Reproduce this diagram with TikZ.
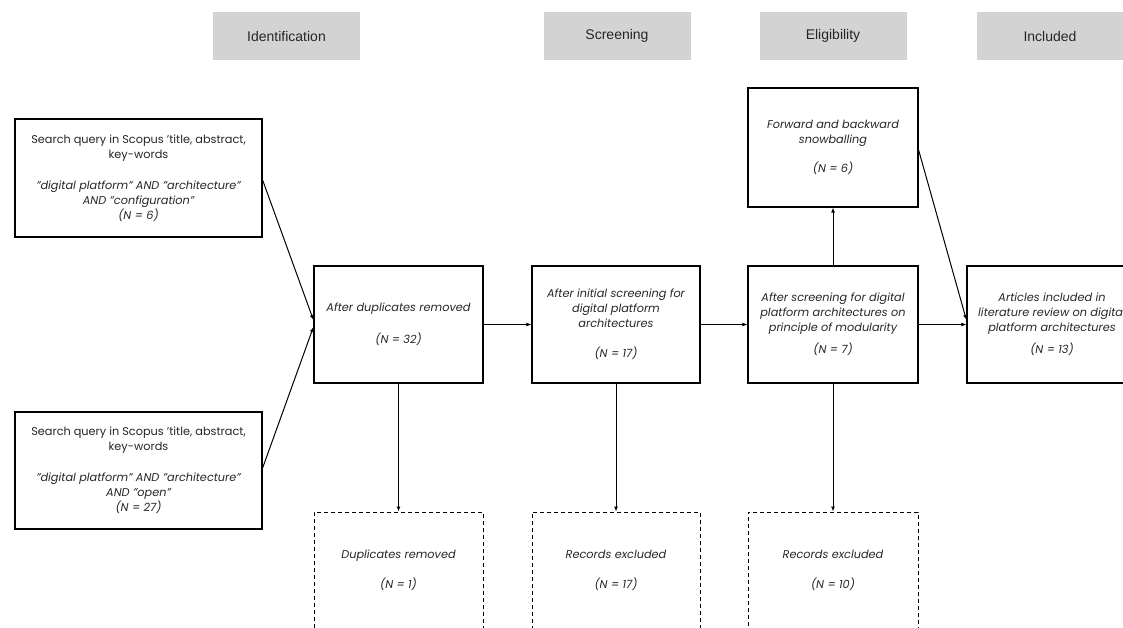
\documentclass[tikz,border=0pt]{standalone}
\usepackage{fontspec}
\setmainfont{Poppins}
\newfontfamily\hdrfont{Liberation Sans}
\usetikzlibrary{arrows.meta}

\tikzset{
  phase/.style={fill={rgb,255:red,211;green,211;blue,211}, draw=none,
    minimum width=147pt, minimum height=48pt, inner sep=0pt,
    font=\hdrfont\fontsize{14}{16}\selectfont, text=black!85},
  stagebox/.style={draw=black, line width=1.2pt, inner sep=0pt,
    minimum width=169pt, minimum height=117pt, align=center,
    font=\fontsize{11.3}{15}\selectfont\itshape, text=black!85},
  querybox/.style={stagebox, minimum width=247pt, minimum height=118pt},
  outbox/.style={stagebox, line width=0.9pt, dash pattern=on 4pt off 3pt},
  arr/.style={draw=black, line width=1pt, -{Latex[length=5pt,width=4pt]}}
}

\begin{document}
\begin{tikzpicture}[x=1pt,y=-1pt]
  \useasboundingbox (0,0) rectangle (1123,628);
  \clip (0,0) rectangle (1123,628);

  % phase headers
  \node[phase] (hId)  at (286.5,36) {Identification};
  \node[phase] (hScr) at (617,36)   {Screening};
  \node[phase] (hEli) at (833,36)   {Eligibility};
  \node[phase] (hInc) at (1050,36)  {Included};

  % database searches
  \node[querybox] (q1) at (138.5,178)
    {\upshape Search query in Scopus 'title, abstract,\\ \upshape key-words\\[16pt]
     "digital platform" AND "architecture"\\ AND "configuration"\\ (N = 6)};
  \node[querybox, minimum height=117pt] (q2) at (138.5,470.5)
    {\upshape Search query in Scopus 'title, abstract,\\ \upshape key-words\\[16pt]
     "digital platform" AND "architecture"\\ AND "open"\\ (N = 27)};

  % main flow
  \node[stagebox] (dup) at (398.5,324.5)
    {After duplicates removed\\[17pt](N = 32)};
  \node[stagebox, minimum width=168pt] (scr) at (616,324.5)
    {After initial screening for\\ digital platform\\ architectures\\[15pt](N = 17)};
  \node[stagebox, minimum width=170pt] (eli) at (833,324.5)
    {After screening for digital\\ platform architectures on\\ principle of modularity\\[7pt](N = 7)};
  \node[stagebox, minimum width=170pt, minimum height=119pt] (snow) at (833,147.5)
    {Forward and backward\\ snowballing\\[14pt](N = 6)};
  \node[stagebox, minimum width=170pt] (inc) at (1052,324.5)
    {Articles included in\\ literature review on digital\\ platform architectures\\[7pt](N = 13)};

  % exclusions
  \node[outbox] (ex1) at (398.5,570.5) {Duplicates removed\\[15pt](N = 1)};
  \node[outbox, minimum width=168pt] (ex2) at (616,570.5) {Records excluded\\[15pt](N = 17)};
  \node[outbox, minimum width=170pt] (ex3) at (833,570.5) {Records excluded\\[15pt](N = 10)};

  % connectors
  \draw[arr] ([yshift=-2pt]q1.east) -- ([yshift=4.5pt]dup.west);
  \draw[arr] ([yshift=2.5pt]q2.east) -- ([yshift=-2.5pt]dup.west);
  \draw[arr] (dup.east) -- (scr.west);
  \draw[arr] (scr.east) -- (eli.west);
  \draw[arr] (eli.east) -- (inc.west);
  \draw[arr] (eli.north) -- (snow.south);
  \draw[arr] ([yshift=-2.5pt]snow.east) -- ([yshift=4.5pt]inc.west);
  \draw[arr] (dup.south) -- (ex1.north);
  \draw[arr] (scr.south) -- (ex2.north);
  \draw[arr] (eli.south) -- (ex3.north);
\end{tikzpicture}
\end{document}
